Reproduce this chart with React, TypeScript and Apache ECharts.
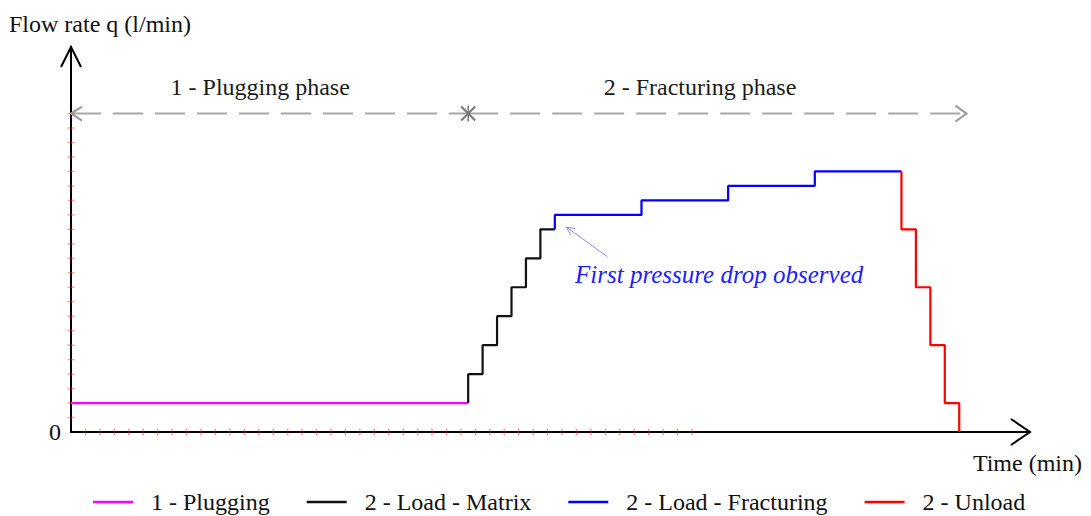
import React, { useEffect, useRef } from "react";
import * as echarts from "echarts";

const FONT = '"Liberation Serif", "Times New Roman", Times, serif';

// Series data (time in min units, flow rate in l/min units)
const pluggingData = [[0, 1], [27.5, 1]];
const matrixData = [[27.5, 1], [27.5, 2], [28.5, 3], [29.5, 4], [30.5, 5], [31.5, 6], [32.5, 7], [33.5, 7]];
const fracturingData = [[33.5, 7], [33.5, 7.5], [39.5, 8], [45.5, 8.5], [51.5, 9], [57.5, 9]];
const unloadData = [[57.5, 9], [57.5, 7], [58.5, 5], [59.5, 3], [60.5, 1], [61.5, 0]];

// Phase arrows
const phase1Arrow = [[0, 11], [27.5, 11]];
const phase2Arrow = [[27.5, 11], [62, 11]];

// Small tick marks along the axes
const xTickMarks = [1, 2, 3, 4, 5, 6, 7, 8, 9, 10, 11, 12, 13, 14, 15, 16, 17, 18, 19, 20, 21, 22, 23, 24, 25, 26, 27, 28, 29, 30, 31, 32, 33, 34, 35, 36, 37, 38, 39, 40, 41, 42, 43];
const yTickMarks = [0.5, 1, 1.5, 2, 2.5, 3, 3.5, 4, 4.5, 5, 5.5, 6, 6.5, 7, 7.5, 8, 8.5, 9, 9.5, 10, 10.5, 11];

const seriesNames = ["1 - Plugging", "2 - Load - Matrix", "2 - Load - Fracturing", "2 - Unload"];
const seriesColors = ["#ff00ff", "#111111", "#0000ff", "#ff0000"];

const X_MAX = 66.4;
const Y_MAX = 13.3;

export default function App() {
  const ref = useRef<HTMLDivElement>(null);

  useEffect(() => {
    if (!ref.current) return;
    const chart = echarts.init(ref.current, null, { renderer: "svg" });

    const lineSeries = [pluggingData, matrixData, fracturingData, unloadData].map((d, i) => ({
      name: seriesNames[i],
      type: "line",
      data: d,
      step: "end",
      symbol: "none",
      z: 5,
      lineStyle: { color: seriesColors[i], width: 2.2 },
      itemStyle: { color: seriesColors[i] },
    }));

    const option: any = {
      animation: false,
      backgroundColor: "#ffffff",
      textStyle: { fontFamily: FONT },
      grid: { left: 71, top: 47, right: 61, bottom: 84 },
      xAxis: {
        type: "value",
        min: 0,
        max: X_MAX,
        splitLine: { show: false },
        axisTick: { show: false },
        axisLabel: { show: false },
        axisLine: { show: true, lineStyle: { color: "#000", width: 2 } },
      },
      yAxis: {
        type: "value",
        min: 0,
        max: Y_MAX,
        interval: 1,
        splitLine: { show: false },
        axisTick: { show: false },
        axisLabel: {
          show: true,
          margin: 10,
          fontSize: 24,
          color: "#111",
          fontFamily: FONT,
          padding: [6, 0, 0, 0],
          formatter: (v: number) => (v === 0 ? "0" : ""),
        },
        axisLine: { show: true, lineStyle: { color: "#000", width: 2 } },
      },
      legend: {
        data: seriesNames.map((n) => ({ name: n, icon: "rect" })),
        left: 88,
        top: 485,
        itemWidth: 40,
        itemHeight: 2.5,
        itemGap: 37,
        textStyle: { fontSize: 24, color: "#111", fontFamily: FONT, padding: [0, 0, 0, 13] },
      },
      series: [
        {
          name: "phase1",
          type: "line",
          data: phase1Arrow,
          symbol: "none",
          silent: true,
          z: 2,
          lineStyle: { color: "#a8a8a8", width: 2, type: [30, 12] },
        },
        {
          name: "phase2",
          type: "line",
          data: phase2Arrow,
          symbol: "none",
          silent: true,
          z: 2,
          lineStyle: { color: "#a8a8a8", width: 2, type: [30, 12] },
        },
        {
          name: "xticks",
          type: "scatter",
          data: xTickMarks.map((x) => [x, 0]),
          symbol: "rect",
          symbolSize: [1.5, 7],
          silent: true,
          z: 6,
          itemStyle: { color: "rgba(255,40,40,0.55)" },
        },
        {
          name: "yticks",
          type: "scatter",
          data: yTickMarks.map((y) => [0, y]),
          symbol: "rect",
          symbolSize: [7, 1.5],
          silent: true,
          z: 6,
          itemStyle: { color: "rgba(255,40,40,0.55)" },
        },
        ...lineSeries,
      ],
    };

    chart.setOption(option);

    const px = (pt: number[]) => chart.convertToPixel({ gridIndex: 0 }, pt) as number[];
    const yTip = px([0, Y_MAX]);
    const xTip = px([X_MAX, 0]);
    const gl = px(phase1Arrow[0]);
    const gr = px(phase2Arrow[1]);
    const gm = px(phase1Arrow[1]);
    const lab1 = px([13.1, 11.93]);
    const lab2 = px([43.55, 11.93]);
    const annText = px([34.9, 5.45]);
    const annTail = px([37.15, 6.05]);
    const annTip = px([34.3, 7.08]);

    const ang = Math.atan2(annTail[1] - annTip[1], annTail[0] - annTip[0]);
    const ah = 9;
    const spread = 0.45;
    const annHead = [
      [annTip[0] + ah * Math.cos(ang + spread), annTip[1] + ah * Math.sin(ang + spread)],
      [annTip[0], annTip[1]],
      [annTip[0] + ah * Math.cos(ang - spread), annTip[1] + ah * Math.sin(ang - spread)],
    ];

    const gray = { stroke: "#9a9a9a", lineWidth: 2, fill: null };
    const black = { stroke: "#000", lineWidth: 2, fill: null };

    chart.setOption({
      graphic: [
        { type: "polyline", shape: { points: [[yTip[0] - 10, yTip[1] + 20], [yTip[0], yTip[1]], [yTip[0] + 10, yTip[1] + 20]] }, style: black, z: 10 },
        { type: "polyline", shape: { points: [[xTip[0] - 19, xTip[1] - 13], [xTip[0], xTip[1]], [xTip[0] - 19, xTip[1] + 13]] }, style: black, z: 10 },
        { type: "polyline", shape: { points: [[gl[0] + 11, gl[1] - 7], [gl[0], gl[1]], [gl[0] + 11, gl[1] + 7]] }, style: gray, z: 10 },
        { type: "polyline", shape: { points: [[gr[0] - 11, gr[1] - 8], [gr[0], gr[1]], [gr[0] - 11, gr[1] + 8]] }, style: gray, z: 10 },
        { type: "line", shape: { x1: gm[0] - 7, y1: gm[1] - 7, x2: gm[0] + 7, y2: gm[1] + 7 }, style: { stroke: "#777", lineWidth: 2 }, z: 10 },
        { type: "line", shape: { x1: gm[0] - 7, y1: gm[1] + 7, x2: gm[0] + 7, y2: gm[1] - 7 }, style: { stroke: "#777", lineWidth: 2 }, z: 10 },
        { type: "line", shape: { x1: gm[0], y1: gm[1] - 8, x2: gm[0], y2: gm[1] + 8 }, style: { stroke: "#777", lineWidth: 1.5 }, z: 10 },
        { type: "line", shape: { x1: annTail[0], y1: annTail[1], x2: annTip[0], y2: annTip[1] }, style: { stroke: "#8c8cff", lineWidth: 1 }, z: 10 },
        { type: "polyline", shape: { points: annHead }, style: { stroke: "#8c8cff", lineWidth: 1, fill: null }, z: 10 },
        {
          type: "text", x: lab1[0], y: lab1[1], z: 10,
          style: { text: "1 - Plugging phase", fontSize: 24, fontFamily: FONT, fill: "#1a1a1a", align: "center", verticalAlign: "middle" },
        },
        {
          type: "text", x: lab2[0], y: lab2[1], z: 10,
          style: { text: "2 - Fracturing phase", fontSize: 24, fontFamily: FONT, fill: "#1a1a1a", align: "center", verticalAlign: "middle" },
        },
        {
          type: "text", x: annText[0], y: annText[1], z: 10,
          style: { text: "First pressure drop observed", fontSize: 25, fontStyle: "italic", fontFamily: FONT, fill: "#2020ff", align: "left", verticalAlign: "middle" },
        },
        {
          type: "text", x: 9, y: 24, z: 10,
          style: { text: "Flow rate q (l/min)", fontSize: 24, fontFamily: FONT, fill: "#111", align: "left", verticalAlign: "middle" },
        },
        {
          type: "text", x: 1082, y: 463, z: 10,
          style: { text: "Time (min)", fontSize: 24, fontFamily: FONT, fill: "#111", align: "right", verticalAlign: "middle" },
        },
      ],
    });

    return () => chart.dispose();
  }, []);

  return (
    <div
      ref={ref}
      style={{ position: "absolute", left: 0, top: 0, width: 1091, height: 516, background: "#fff" }}
    />
  );
}
